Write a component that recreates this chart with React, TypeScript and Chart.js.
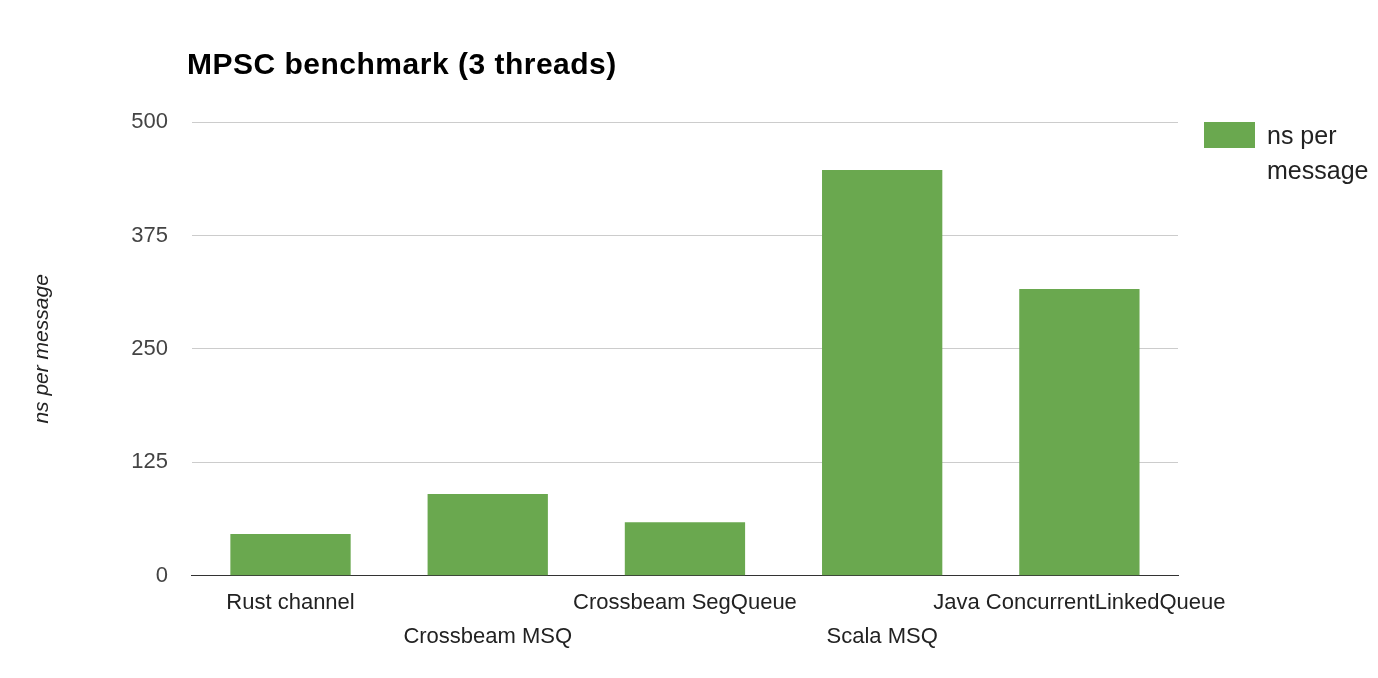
import { useRef, useEffect } from 'react';
import Chart from 'chart.js/auto';

const categories = ['Rust channel', 'Crossbeam MSQ', 'Crossbeam SegQueue', 'Scala MSQ', 'Java ConcurrentLinkedQueue'];
const nsPerMessage = [46, 90, 59, 447, 316];
const yTicks = [0, 125, 250, 375, 500];
const GREEN = '#6aa84f';
const FONT = '"Liberation Sans", Arial, sans-serif';

export default function App() {
    const chartRef = useRef<HTMLCanvasElement>(null);

    useEffect(() => {
        if (!chartRef.current) return;
        // stagger the x labels like the original: odd ones drop to a second line
        const labels = categories.map((c, i) => (i % 2 ? ['', c] : c));
        const chart = new Chart(chartRef.current, {
            type: 'bar',
            data: {
                labels,
                datasets: [{
                    label: 'ns per message',
                    data: nsPerMessage,
                    backgroundColor: GREEN,
                    barPercentage: 0.61,
                    categoryPercentage: 1,
                }],
            },
            options: {
                animation: false,
                responsive: true,
                maintainAspectRatio: false,
                layout: { padding: { top: 114, right: 192, left: 18, bottom: 14 } },
                plugins: {
                    legend: { display: false },
                    tooltip: { enabled: false },
                },
                scales: {
                    x: {
                        grid: { display: false },
                        border: { color: '#333', width: 1 },
                        ticks: {
                            autoSkip: false,
                            maxRotation: 0,
                            color: '#222',
                            font: { family: FONT, size: 22, lineHeight: 1.55 },
                            padding: 2,
                        },
                    },
                    y: {
                        min: 0,
                        max: 500,
                        afterBuildTicks: (axis: any) => {
                            axis.ticks = yTicks.map(v => ({ value: v }));
                        },
                        grid: { color: (ctx: any) => (ctx.tick && ctx.tick.value === 0 ? '#333' : '#ccc'), drawTicks: false },
                        border: { display: false },
                        ticks: {
                            color: '#444',
                            font: { family: FONT, size: 22 },
                            padding: 24,
                        },
                        title: {
                            display: true,
                            text: 'ns per message',
                            color: '#222',
                            font: { family: FONT, size: 21, style: 'italic' },
                            padding: { bottom: 52 },
                        },
                    },
                },
            },
        } as any);
        return () => chart.destroy();
    }, []);

    return (
        <div style={{ position: 'relative', width: 1362, height: 662, fontFamily: FONT }}>
            <canvas ref={chartRef}></canvas>
            <div style={{ position: 'absolute', left: 179, top: 39, fontSize: 30, fontWeight: 'bold', color: '#000', letterSpacing: 0.5 }}>
                MPSC benchmark (3 threads)
            </div>
            <div style={{ position: 'absolute', left: 1196, top: 114, display: 'flex', alignItems: 'flex-start' }}>
                <div style={{ width: 51, height: 26, background: GREEN, marginRight: 12 }}></div>
                <div style={{ fontSize: 25, color: '#222', lineHeight: '35px', marginTop: -4 }}>ns per<br />message</div>
            </div>
        </div>
    );
}
